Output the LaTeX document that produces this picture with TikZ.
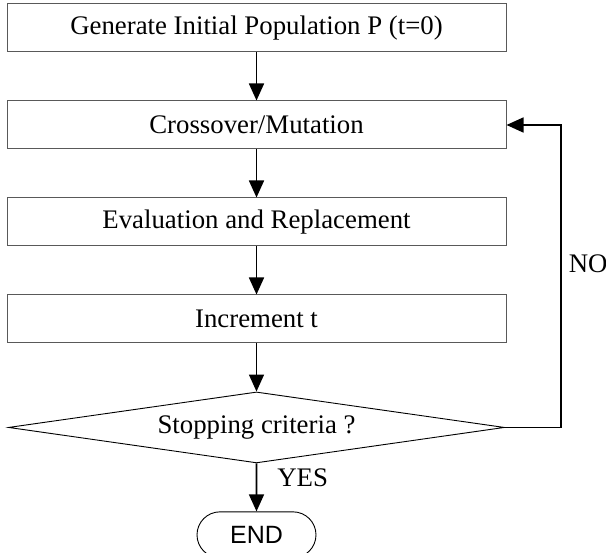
\documentclass[tikz,border=0pt]{standalone}
\usepackage{fontspec}
\setmainfont{Liberation Serif}
\setsansfont{Liberation Sans}
\usetikzlibrary{arrows.meta, positioning, shapes.geometric, shapes.misc}
\tikzset{
  block/.style={draw=black!65, line width=1pt, rectangle, minimum width=499pt, minimum height=48pt, inner sep=0pt, font=\fontsize{26.8}{31}\selectfont},
  decision/.style={draw, line width=0.9pt, diamond, aspect=7, minimum width=496pt, minimum height=71pt, inner sep=0pt, font=\fontsize{26.8}{31}\selectfont},
  terminal/.style={draw, line width=0.9pt, rounded rectangle, minimum width=119pt, minimum height=46pt, inner sep=0pt, font=\sffamily\fontsize{25}{30}\selectfont},
  flow/.style={-{Triangle[length=17pt, width=15pt]}, line width=1.6pt},
  lbl/.style={inner sep=2pt, font=\fontsize{26.8}{31}\selectfont},
}

\begin{document}
\begin{tikzpicture}[node distance=48pt]
  \useasboundingbox (0,0) rectangle (606pt,-553pt);
  \node[block] (init) at (256.5pt,-28pt) {Generate Initial Population P (t=0)};
  \node[block, below=of init] (cross) {Crossover/Mutation};
  \node[block, below=of cross] (eval) {Evaluation and Replacement};
  \node[block, below=of eval] (incr) {Increment t};
  \node[decision, below=of incr] (stop) {Stopping criteria ?};
  \node[terminal, below=of stop] (end) {END};

  \draw[flow] (init) -- (cross);
  \draw[flow] (cross) -- (eval);
  \draw[flow] (eval) -- (incr);
  \draw[flow] (incr) -- (stop);
  \draw[flow] (stop) -- node[lbl, pos=0.3, right=18pt]{YES} (end);
  \draw[flow] (stop.east) -- ++(56pt,0) |- node[lbl, pos=0.27, right=5pt]{NO} (cross.east);
\end{tikzpicture}
\end{document}
